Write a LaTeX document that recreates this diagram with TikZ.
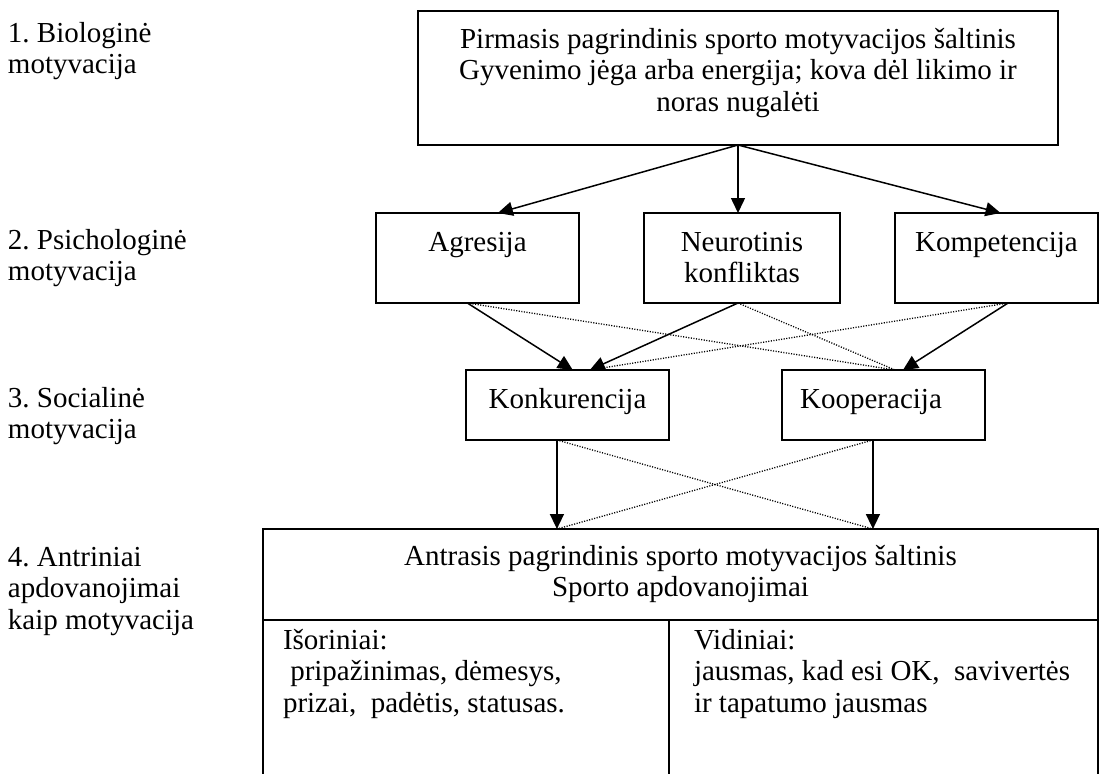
\documentclass[tikz,border=0pt]{standalone}
\usepackage{fontspec}
\setmainfont{Liberation Serif}
\usetikzlibrary{arrows.meta,calc}
\frenchspacing
\begin{document}
\begin{tikzpicture}[x=1pt,y=-1pt,
  box/.style={draw, line width=1.6pt, inner sep=0pt, outer sep=0pt},
  frame/.style={draw=none, inner sep=0pt, outer sep=0pt},
  txt/.style={font=\fontsize{29}{31.5}\selectfont, inner sep=0pt, outer sep=0pt},
  arr/.style={line width=1.5pt, -{Triangle[length=15pt,width=14pt]}},
  dots/.style={line width=1.3pt, dash pattern=on 1.1pt off 1.5pt},
  edge/.style={line width=1.6pt}]

\path[fill=white, use as bounding box] (0,0) rectangle (1117,774);

% left labels
\node[txt, align=left, anchor=north west] (l1) at (8,20) {\strut 1. Biologinė\\\strut motyvacija};
\node[txt, align=left, anchor=north west] (l2) at (8,227) {\strut 2. Psichologinė\\\strut motyvacija};
\node[txt, align=left, anchor=north west] (l3) at (8,385) {\strut 3. Socialinė\\\strut motyvacija};
\node[txt, align=left, anchor=north west] (l4) at (8,544) {\strut 4. Antriniai\\\strut apdovanojimai\\\strut kaip motyvacija};

% top box
\node[box, minimum width=640pt, minimum height=134pt] (top) at (738,78) {};
\node[txt, align=center, anchor=north] (topt) at (738,26) {\strut Pirmasis pagrindinis sporto motyvacijos šaltinis\\\strut Gyvenimo jėga arba energija; kova dėl likimo ir\\\strut noras nugalėti};

% row 2
\node[box, minimum width=203pt, minimum height=90pt] (agr) at (477.5,258) {};
\node[txt, anchor=north] (agrt) at (477.5,229) {\strut Agresija};
\node[box, minimum width=196pt, minimum height=90pt] (neu) at (742,258) {};
\node[txt, align=center, anchor=north] (neut) at (742,229) {\strut Neurotinis\\\strut konfliktas};
\node[box, minimum width=203pt, minimum height=90pt] (kom) at (996.5,258) {};
\node[txt, anchor=north] (komt) at (996.5,229) {\strut Kompetencija};

% row 3
\node[box, minimum width=203pt, minimum height=70pt] (konk) at (567.5,405) {};
\node[txt, anchor=north] (konkt) at (567.5,386) {\strut Konkurencija};
\node[box, minimum width=203pt, minimum height=70pt] (koop) at (883.5,405) {};
\node[txt, anchor=north] (koopt) at (871,386) {\strut Kooperacija};

% bottom box (open at the bottom)
\node[frame, minimum width=835pt, minimum height=245pt] (bot) at (680.5,651.5) {};
\draw[edge] (bot.south west) -- (bot.north west) -- (bot.north east) -- (bot.south east);
\coordinate (dl) at ($(bot.north west)+(0,91)$);
\coordinate (dr) at ($(bot.north east)+(0,91)$);
\coordinate (dm) at ($(bot.north west)+(406,91)$);
\coordinate (db) at (dm |- bot.south);
\draw[edge] (dl) -- (dr);
\draw[edge] (dm) -- (db);

\node[txt, align=center, anchor=north] (bott) at (680.5,543) {\strut Antrasis pagrindinis sporto motyvacijos šaltinis\\\strut Sporto apdovanojimai};
\node[txt, align=left, anchor=north west] (isor) at (283,627) {\strut Išoriniai:\\\strut\ pripažinimas, dėmesys,\\\strut prizai, \ padėtis, statusas.};
\node[txt, align=left, anchor=north west] (vid) at (694,627) {\strut Vidiniai:\\\strut jausmas, kad esi OK, \ savivertės\\\strut ir tapatumo jausmas};

% connectors: top -> row 2
\draw[arr] (top.south) -- ($(agr.north west)!0.6!(agr.north east)$);
\draw[arr] (top.south) -- (top.south |- neu.north);
\draw[arr] (top.south) -- ($(kom.north west)!0.52!(kom.north east)$);

% row 2 -> row 3
\coordinate (as) at ($(agr.south west)!0.45!(agr.south east)$);
\coordinate (ns) at (top.south |- neu.south);
\coordinate (ks) at ($(kom.south west)!0.557!(kom.south east)$);
\coordinate (kn1) at ($(konk.north west)!0.526!(konk.north east)$);
\coordinate (kn2) at ($(konk.north west)!0.61!(konk.north east)$);
\coordinate (ko1) at ($(koop.north west)!0.557!(koop.north east)$);
\coordinate (ko2) at ($(koop.north west)!0.596!(koop.north east)$);
\draw[dots] (as) -- (ko1);
\draw[dots] (ns) -- (ko1);
\draw[dots] (ks) -- (kn2);
\draw[arr] (as) -- (kn1);
\draw[arr] (ns) -- (kn2);
\draw[arr] (ks) -- (ko2);

% row 3 -> bottom
\coordinate (cs) at ($(konk.south west)!0.448!(konk.south east)$);
\coordinate (os) at ($(koop.south west)!0.448!(koop.south east)$);
\draw[dots] (cs) -- (os |- bot.north);
\draw[dots] (os) -- (cs |- bot.north);
\draw[arr] (cs) -- (cs |- bot.north);
\draw[arr] (os) -- (os |- bot.north);
\end{tikzpicture}
\end{document}
